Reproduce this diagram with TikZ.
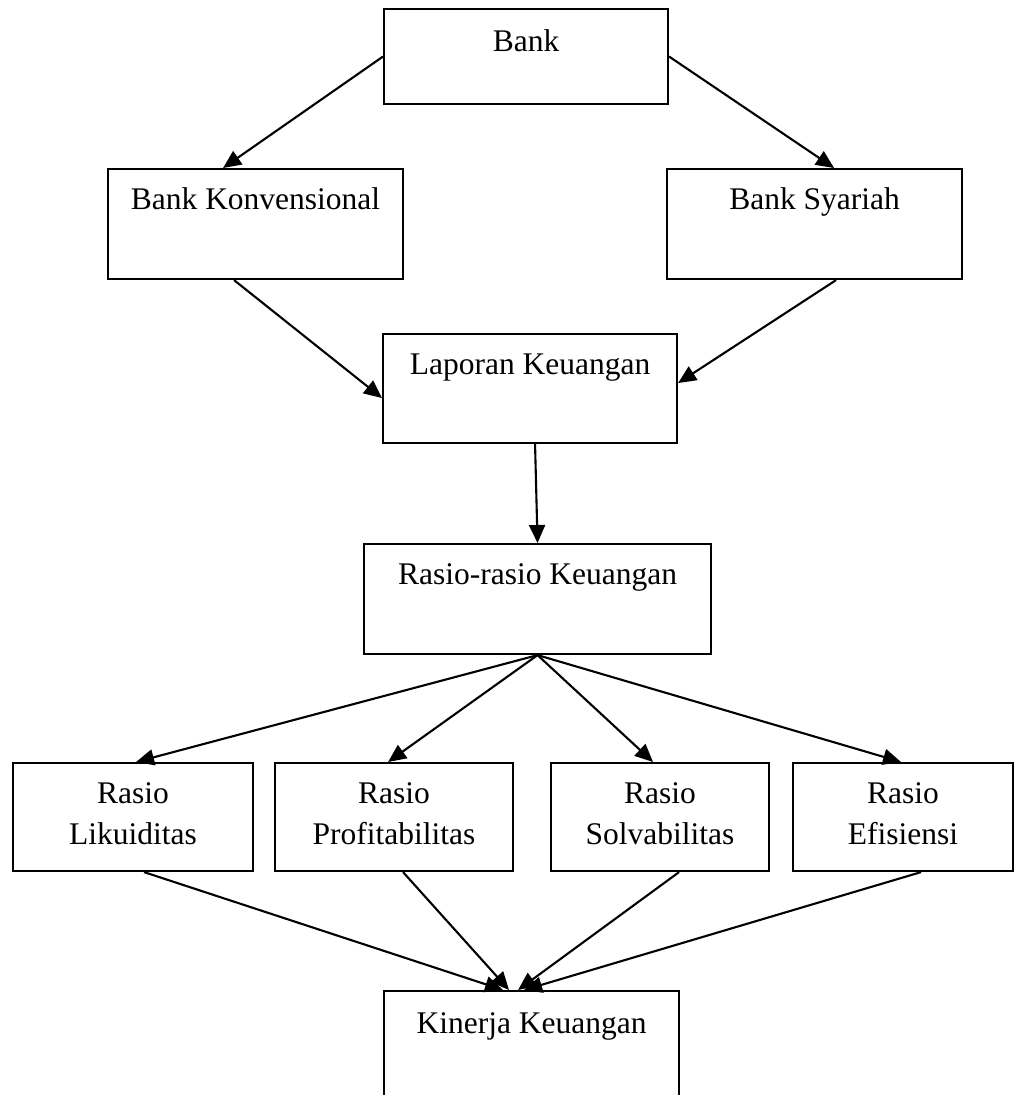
\documentclass[tikz,border=0pt]{standalone}
\usepackage{fontspec}
\setmainfont{Liberation Serif}
\usetikzlibrary{arrows.meta}
\newcommand\twolines[2]{\vtop{\halign{\hfil##\hfil\cr #1\cr #2\cr}}}
\begin{document}
\begin{tikzpicture}[x=1pt,y=-1pt,
  font=\fontsize{31.5}{41}\selectfont,
  box/.style={draw=black, line width=2.1pt, inner sep=0pt, anchor=north west, text height=40pt},
  arr/.style={draw=black, line width=2.1pt, -{Triangle[length=18pt,width=16pt]}}]
\useasboundingbox (0,0) rectangle (1013,1095);
\node[box, minimum width=284pt, minimum height=95pt, text height=42pt, text depth=53pt] (bank) at (383,8) {Bank};
\node[box, minimum width=295pt, minimum height=110pt, text depth=70pt] (bk) at (107,168) {Bank Konvensional};
\node[box, minimum width=295pt, minimum height=110pt, text depth=70pt] (bs) at (666,168) {Bank Syariah};
\node[box, minimum width=294pt, minimum height=109pt, text depth=69pt] (lk) at (382,333) {Laporan Keuangan};
\node[box, minimum width=347pt, minimum height=110pt, text depth=70pt] (rk) at (363,543) {Rasio-rasio Keuangan};
\node[box, minimum width=240pt, minimum height=108pt, text depth=68pt] (lik) at (12,762) {\twolines{Rasio}{Likuiditas}};
\node[box, minimum width=238pt, minimum height=108pt, text depth=68pt] (pro) at (274,762) {\twolines{Rasio}{Profitabilitas}};
\node[box, minimum width=218pt, minimum height=108pt, text depth=68pt] (sol) at (550,762) {\twolines{Rasio}{Solvabilitas}};
\node[box, minimum width=220pt, minimum height=108pt, text depth=68pt] (efi) at (792,762) {\twolines{Rasio}{Efisiensi}};
\node[box, minimum width=295pt, minimum height=120pt, text height=42pt, text depth=78pt] (kin) at (383,990) {Kinerja Keuangan};
\draw[arr] (bank.west) -- ([xshift=-32.5pt]bk.north);
\draw[arr] (bank.east) -- ([xshift=19.5pt]bs.north);
\draw[arr] ([xshift=-21.5pt]bk.south) -- ([yshift=-9.5pt]lk.west);
\draw[arr] ([xshift=21.5pt]bs.south) -- ([yshift=5.5pt]lk.east);
\draw[arr] ([xshift=5pt]lk.south) -- (rk.north);
\draw[arr] (rk.south) -- ([xshift=3pt]lik.north);
\draw[arr] (rk.south) -- ([xshift=-6pt]pro.north);
\draw[arr] (rk.south) -- ([xshift=-7pt]sol.north);
\draw[arr] (rk.south) -- ([xshift=-2pt]efi.north);
\draw[arr] ([xshift=11pt]lik.south) -- ([xshift=-28.5pt]kin.north);
\draw[arr] ([xshift=9pt]pro.south) -- ([xshift=-22.5pt]kin.north);
\draw[arr] ([xshift=19pt]sol.south) -- ([xshift=-13.5pt]kin.north);
\draw[arr] ([xshift=18pt]efi.south) -- ([xshift=-7.5pt]kin.north);
\end{tikzpicture}
\end{document}
